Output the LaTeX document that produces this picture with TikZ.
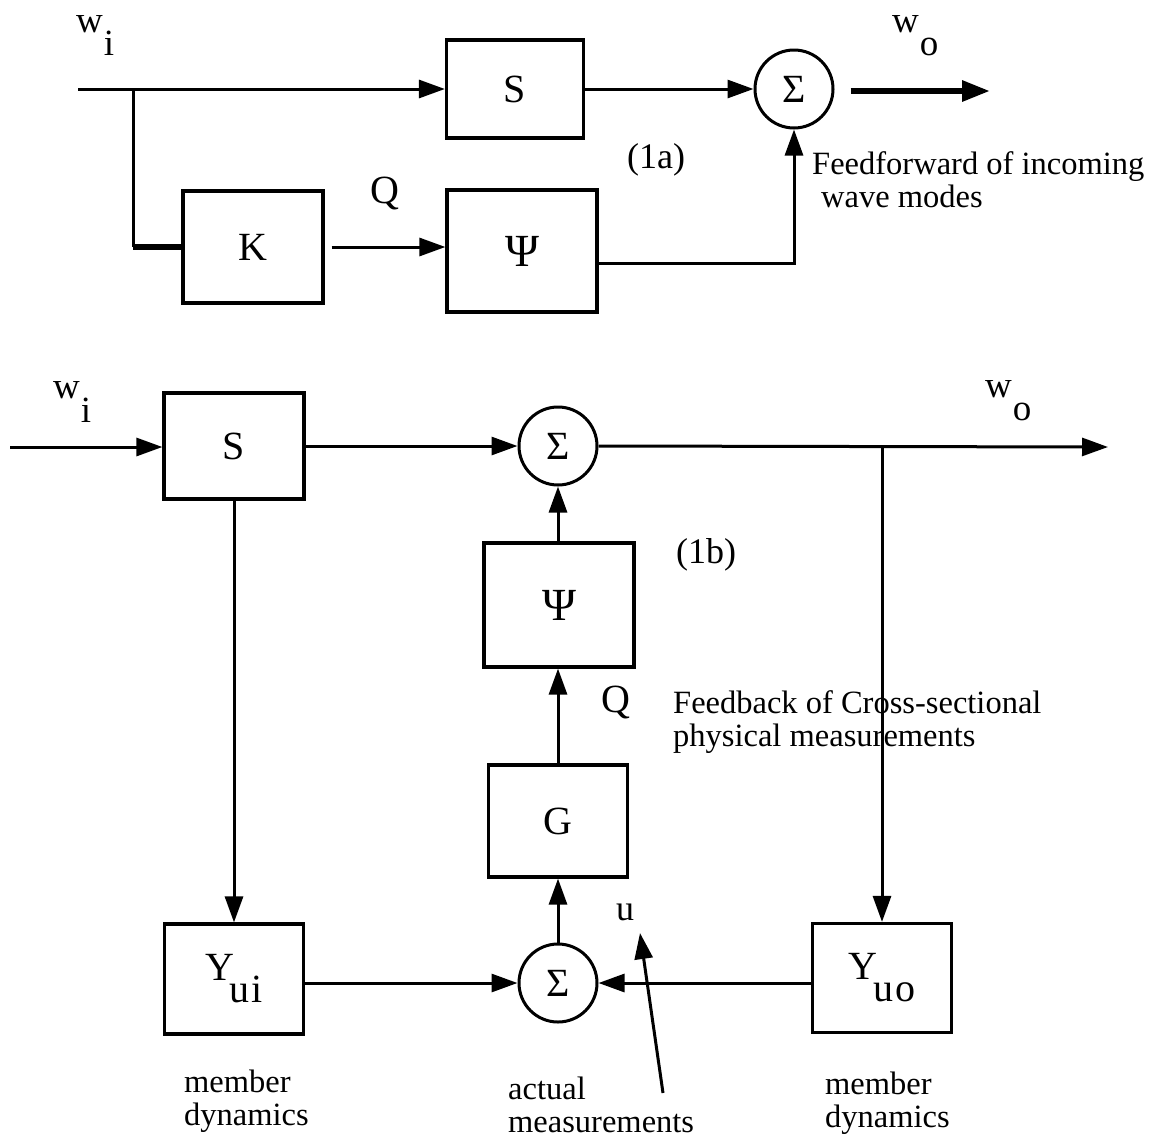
\documentclass[tikz,border=0pt]{standalone}
\usepackage{fontspec}
\setmainfont{Liberation Serif}
\usetikzlibrary{arrows.meta}
\begin{document}
\begin{tikzpicture}[x=1pt,y=-1pt,
  ln/.style={line width=3pt},
  thk/.style={line width=6pt},
  arr/.style={ln,-{Triangle[length=26pt,width=18pt]}},
  thkarr/.style={thk,-{Triangle[length=28pt,width=20pt]}},
  blk/.style={draw,line width=3.2pt,inner sep=0pt,font=\fontsize{40}{42}\selectfont},
  psi/.style={font=\fontsize{46}{48}\selectfont},
  sumnode/.style={draw,circle,line width=3pt,minimum size=78pt,inner sep=0pt,font=\fontsize{40}{42}\selectfont},
  lbl/.style={inner sep=0pt,font=\fontsize{37}{40}\selectfont},
  note/.style={inner sep=0pt,align=left,font=\fontsize{32.5}{33}\selectfont},
  tag/.style={inner sep=0pt,font=\fontsize{36}{38}\selectfont}]
\useasboundingbox[fill=white] (0,0) rectangle (1159,1138);

% ---------- (1a): feedforward of incoming wave modes ----------
\node[blk,minimum width=137pt,minimum height=98pt] (S1) at (515,89) {S};
\node[blk,minimum width=140pt,minimum height=112pt] (K) at (253,247) {K};
\node[blk,psi,minimum width=150pt,minimum height=122pt] (Psi1) at (522,251) {Ψ};
\node[sumnode] (sum1) at (794,89) {Σ};

\coordinate (in1) at (78,89);
\coordinate (br1) at (133,89);
\coordinate (out1) at (990,91);

\draw[arr] (in1) -- (S1.west);
\draw[ln] (br1) -- (br1 |- K.west);
\draw[thk] (br1 |- K.west) -- (K.west);
\draw[arr] ([xshift=7pt]K.east) -- (K.east -| Psi1.west);
\draw[arr] (S1.east) -- (sum1.west);
\draw[arr] ([yshift=-12pt]Psi1.east) -| (sum1.south);
\draw[thkarr] ([xshift=16pt]sum1.east |- out1) -- (out1);

\node[lbl,anchor=base west] (wi1) at (76,32) {w\kern1pt\raisebox{-23pt}{i}};
\node[lbl,anchor=base west] (wo1) at (892,32) {w\kern1pt\raisebox{-23pt}{o}};
\node[lbl,font=\fontsize{40}{42}\selectfont] (Q1) at (385,193) {Q};
\node[tag] (tag1a) at (656,160) {(1a)};
\node[note,anchor=north west] (ff) at (812,151) {Feedforward of incoming\\\hspace{9pt}wave modes};

% ---------- (1b): feedback of cross-sectional measurements ----------
\node[blk,minimum width=140pt,minimum height=106pt] (S2) at (234,446) {S};
\node[sumnode] (sum2) at (558,446) {Σ};
\node[blk,psi,minimum width=150pt,minimum height=124pt] (Psi2) at (559,605) {Ψ};
\node[blk,minimum width=139pt,minimum height=112pt] (G) at (558,821) {G};
\node[sumnode] (sum3) at (558,983) {Σ};
\node[blk,minimum width=139pt,minimum height=110pt] (Yui) at (234,979) {Y\kern-4pt\raisebox{-22pt}{u\kern2pt i}};
\node[blk,minimum width=139pt,minimum height=109pt] (Yuo) at (882,978) {Y\kern-4pt\raisebox{-22pt}{u\kern2pt o}};

\coordinate (in2) at (10,447);
\coordinate (jn) at (882,447);
\coordinate (out2) at (1108,447);
\coordinate (utail) at (663,1093);
\coordinate (uhead) at (640,933);

\draw[arr] (in2) -- (S2.west |- in2);
\draw[arr] (S2.east) -- (sum2.west);
\draw[arr] (sum2.east) -- (out2);
\draw[arr] (jn) -- (Yuo.north);
\draw[arr] (Psi2.north -| sum2.south) -- (sum2.south);
\draw[arr] (G.north) -- (G.north |- Psi2.south);
\draw[arr] (sum3.north) -- (G.south);
\draw[arr] (S2.south) -- (Yui.north);
\draw[arr] (Yui.east |- sum3.west) -- (sum3.west);
\draw[arr] (Yuo.west |- sum3.east) -- (sum3.east);
\draw[arr] (utail) -- (uhead);

\node[lbl,anchor=base west] (wi2) at (53,398) {w\kern1pt\raisebox{-24pt}{i}};
\node[lbl,anchor=base west] (wo2) at (985,397) {w\kern1pt\raisebox{-23pt}{o}};
\node[tag] (tag1b) at (706,555) {(1b)};
\node[lbl,font=\fontsize{40}{42}\selectfont] (Q2) at (616,702) {Q};
\node[note,anchor=north west] (fb) at (673,690) {Feedback of Cross-sectional\\physical measurements};
\node[lbl,font=\fontsize{36}{38}\selectfont] (ulbl) at (625,912) {u};
\node[note,anchor=north west] (md1) at (184,1070) {member\\dynamics};
\node[note,anchor=north west] (am) at (508,1077) {actual\\measurements};
\node[note,anchor=north west] (md2) at (825,1072) {member\\dynamics};
\end{tikzpicture}
\end{document}
